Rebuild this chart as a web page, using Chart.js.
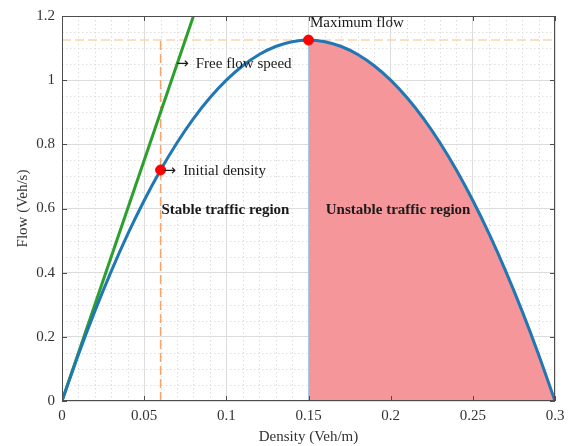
<!DOCTYPE html>
<html><head><meta charset="utf-8">
<script src="https://cdn.jsdelivr.net/npm/chart.js@4"></script>
<style>html,body{margin:0;padding:0;background:#fff}#wrap{width:577px;height:446px}</style>
</head><body><div id="wrap"><canvas id="c" width="577" height="446"></canvas></div>
<script>
// ---- data ----
const density = [0,0.01,0.02,0.03,0.04,0.05,0.06,0.07,0.08,0.09,0.10,0.11,0.12,0.13,0.14,0.15,0.16,0.17,0.18,0.19,0.20,0.21,0.22,0.23,0.24,0.25,0.26,0.27,0.28,0.29,0.30];
const flow    = [0,0.145,0.28,0.405,0.52,0.625,0.72,0.805,0.88,0.945,1.0,1.045,1.08,1.105,1.12,1.125,1.12,1.105,1.08,1.045,1.0,0.945,0.88,0.805,0.72,0.625,0.52,0.405,0.28,0.145,0];
const freeFlowDensity = [0, 0.08];
const freeFlowFlow = [0, 1.2];
const criticalDensity = 0.15;
const maxFlow = 1.125;
const initialDensity = 0.06;
const initialFlow = 0.72;
const jamDensity = 0.3;
const xTickValues = [0,0.05,0.1,0.15,0.2,0.25,0.3];
const xTickLabels = ['0','0.05','0.1','0.15','0.2','0.25','0.3'];
const yTickValues = [0,0.2,0.4,0.6,0.8,1,1.2];
const yTickLabels = ['0','0.2','0.4','0.6','0.8','1','1.2'];
const annotations = [
  {arrow:false, text:'Maximum flow', x:0.1509, y:1.177, bold:false},
  {arrow:true, text:'Free flow speed', x:0.0695, y:1.05, bold:false},
  {arrow:true, text:'Initial density', x:0.0618, y:0.718, bold:false},
  {arrow:false, text:'Stable traffic region', x:0.0605, y:0.595, bold:true},
  {arrow:false, text:'Unstable traffic region', x:0.1605, y:0.595, bold:true}
];

const curvePts = density.map((d,i)=>({x:d,y:flow[i]}));
const fillPts = [{x:criticalDensity,y:0}].concat(curvePts.filter(p=>p.x>=criticalDensity));
const FONT = "'Liberation Serif','Times New Roman',serif";

const boxPlugin = {
  id:'box',
  beforeDatasetsDraw(chart){
    const {ctx, chartArea:a, scales:{x,y}} = chart;
    ctx.save();
    ctx.strokeStyle = '#dedede'; ctx.lineWidth = 1; ctx.setLineDash([1.5,2.5]);
    for(let i=1;i<30;i++){ if(i%5===0) continue;
      const px = Math.round(x.getPixelForValue(i*0.01))+0.5;
      ctx.beginPath(); ctx.moveTo(px,a.top); ctx.lineTo(px,a.bottom); ctx.stroke(); }
    for(let i=1;i<24;i++){ if(i%4===0) continue;
      const py = Math.round(y.getPixelForValue(i*0.05))+0.5;
      ctx.beginPath(); ctx.moveTo(a.left,py); ctx.lineTo(a.right,py); ctx.stroke(); }
    ctx.restore();
  },
  afterDatasetsDraw(chart){
    const {ctx, chartArea:a, scales:{x,y}} = chart;
    ctx.save();
    ctx.strokeStyle = '#4d4d4d'; ctx.lineWidth = 1;
    ctx.strokeRect(Math.round(a.left)+0.5, Math.round(a.top)+0.5, Math.round(a.right-a.left)-1, Math.round(a.bottom-a.top)-1);
    const L=5;
    xTickValues.forEach(v=>{ const px=Math.round(x.getPixelForValue(v))+0.5;
      ctx.beginPath(); ctx.moveTo(px,a.bottom); ctx.lineTo(px,a.bottom-L);
      ctx.moveTo(px,a.top); ctx.lineTo(px,a.top+L); ctx.stroke(); });
    yTickValues.forEach(v=>{ const py=Math.round(y.getPixelForValue(v))+0.5;
      ctx.beginPath(); ctx.moveTo(a.left,py); ctx.lineTo(a.left+L,py);
      ctx.moveTo(a.right,py); ctx.lineTo(a.right-L,py); ctx.stroke(); });
    ctx.fillStyle = '#1a1a1a'; ctx.textBaseline='middle'; ctx.textAlign='left';
    annotations.forEach(t=>{
      let px = x.getPixelForValue(t.x); const py = y.getPixelForValue(t.y);
      if(t.arrow){
        ctx.font = "15px 'DejaVu Sans', sans-serif";
        ctx.fillText('\u2192', px, py);
        px += ctx.measureText('\u2192').width + 7;
      }
      ctx.font = (t.bold?'bold ':'') + '15px ' + FONT;
      ctx.fillText(t.text, px, py);
    });
    ctx.restore();
  }
};

new Chart(document.getElementById('c'), {
  type:'scatter',
  data:{datasets:[
    {data:[{x:initialDensity,y:initialFlow},{x:criticalDensity,y:maxFlow}], pointRadius:5, pointBackgroundColor:'#ff0000', pointBorderColor:'#ff0000', showLine:false, order:0},
    {data:curvePts, showLine:true, borderColor:'#1f77b4', borderWidth:3, pointRadius:0, cubicInterpolationMode:'monotone', fill:false, order:1},
    {data:freeFlowDensity.map((d,i)=>({x:d,y:freeFlowFlow[i]})), showLine:true, borderColor:'#2ca02c', borderWidth:3, pointRadius:0, fill:false, order:2},
    {data:[{x:initialDensity,y:0},{x:initialDensity,y:maxFlow}], showLine:true, borderColor:'#f6a56c', borderWidth:1.5, borderDash:[9,4], pointRadius:0, fill:false, order:3},
    {data:[{x:0,y:maxFlow},{x:jamDensity,y:maxFlow}], showLine:true, borderColor:'#fcd3ad', borderWidth:1.5, borderDash:[9,4], pointRadius:0, fill:false, order:3},
    {data:fillPts, showLine:true, borderColor:'#a9c8e8', borderWidth:1, backgroundColor:'#f4969a', pointRadius:0, tension:0, fill:'origin', order:5}
  ]},
  options:{
    responsive:false, animation:false, devicePixelRatio:1,
    layout:{padding:{left:0,right:22,top:15,bottom:0}},
    plugins:{legend:{display:false}, tooltip:{enabled:false}},
    scales:{
      x:{type:'linear', min:0, max:0.3,
        afterBuildTicks:s=>{s.ticks = xTickValues.map(v=>({value:v}));},
        afterFit:s=>{s.height = 45;},
        ticks:{padding:6, color:'#333', font:{family:FONT,size:15}, maxRotation:0,
          callback:(v)=>{const i=xTickValues.findIndex(t=>Math.abs(t-v)<1e-9); return i>=0?xTickLabels[i]:'';}},
        grid:{color:'#dcdcdc', lineWidth:1, drawTicks:false, tickLength:0},
        border:{display:false},
        title:{display:true, text:'Density (Veh/m)', color:'#333', font:{family:FONT,size:15}, padding:{top:0,bottom:0}}
      },
      y:{type:'linear', min:0, max:1.2,
        afterBuildTicks:s=>{s.ticks = yTickValues.map(v=>({value:v}));},
        afterFit:s=>{s.width = 62;},
        ticks:{padding:7, color:'#333', font:{family:FONT,size:15},
          callback:(v)=>{const i=yTickValues.findIndex(t=>Math.abs(t-v)<1e-9); return i>=0?yTickLabels[i]:'';}},
        grid:{color:'#dcdcdc', lineWidth:1, drawTicks:false, tickLength:0},
        border:{display:false},
        title:{display:true, text:'Flow (Veh/s)', color:'#333', font:{family:FONT,size:15}, padding:{top:14,bottom:0}}
      }
    }
  },
  plugins:[boxPlugin]
});
</script></body></html>
